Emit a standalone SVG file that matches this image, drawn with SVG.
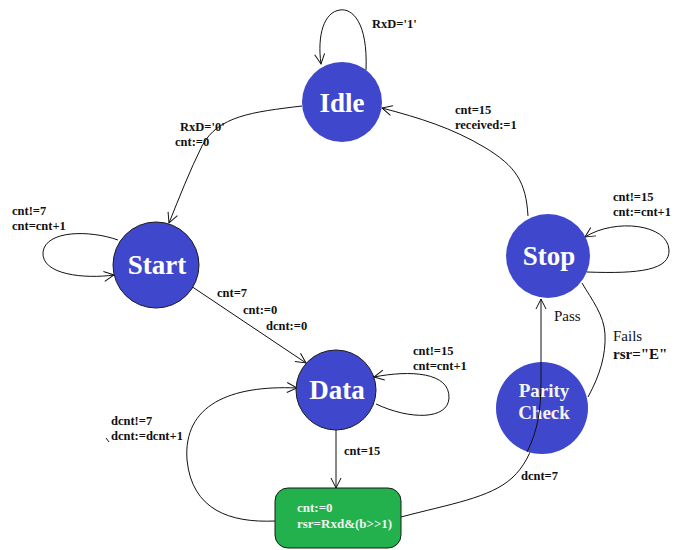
<svg xmlns="http://www.w3.org/2000/svg" width="678" height="550" viewBox="0 0 678 550">
  <style>
    .state { fill: #3f48cc; }
    .outlined { stroke: #1a1a1a; stroke-width: 1; }
    .name { fill: #ffffff; font-family: "Liberation Serif", "Times New Roman", serif; font-weight: bold; font-size: 27px; text-anchor: middle; }
    .name-sm { fill: #f4f4f4; font-family: "Liberation Serif", "Times New Roman", serif; font-weight: bold; font-size: 19px; text-anchor: middle; }
    .lbl { fill: #111111; font-family: "Liberation Serif", "Times New Roman", serif; font-weight: bold; font-size: 12.5px; }
    .lbl-reg { fill: #111111; font-family: "Liberation Serif", "Times New Roman", serif; font-size: 15px; }
    .lbl-big { fill: #111111; font-family: "Liberation Serif", "Times New Roman", serif; font-weight: bold; font-size: 15px; }
    .box-text { fill: #f2f2f2; font-family: "Liberation Serif", "Times New Roman", serif; font-weight: bold; font-size: 13px; }
    .edge { fill: none; stroke: #111111; stroke-width: 1; }
  </style>
  <defs>
    <marker id="arrow" viewBox="0 0 12 12" refX="11" refY="6" markerWidth="12" markerHeight="12" markerUnits="userSpaceOnUse" orient="auto">
      <path d="M1,1 L11,6 L1,11" fill="none" stroke="#111111" stroke-width="1"/>
    </marker>
  </defs>

  <rect width="678" height="550" fill="#ffffff"/>

  <!-- transitions -->
  <g id="connectors">
    <!-- Idle self loop -->
    <path class="edge" d="M366,70 C368,22 352,8 340,10 C324,12 317,35 321,64" marker-end="url(#arrow)"/>
    <!-- Idle -> Start -->
    <path class="edge" d="M302,106 C252,112 218,116 202,146 C190,170 179,198 169,223" marker-end="url(#arrow)"/>
    <!-- Stop -> Idle -->
    <path class="edge" d="M528,216 C526,182 516,166 484,147 C452,128 420,118 382,108" marker-end="url(#arrow)"/>
    <!-- Stop self loop -->
    <path class="edge" d="M587,272 C640,274 670,270 669,250 C668,224 615,218 585,237" marker-end="url(#arrow)"/>
    <!-- Start self loop -->
    <path class="edge" d="M118,240 C90,230 46,230 43,252 C41,275 85,279 114,275" marker-end="url(#arrow)"/>
    <!-- Start -> Data -->
    <path class="edge" d="M191,286 L306,363" marker-end="url(#arrow)"/>
    <!-- Data self loop -->
    <path class="edge" d="M376,404 C410,420 448,420 449,398 C450,372 410,370 374,377" marker-end="url(#arrow)"/>
    <!-- shift register box -> Data -->
    <path class="edge" d="M275,521 C230,523 192,510 187,460 C183,405 230,385 297,388" marker-end="url(#arrow)"/>
    <!-- Data -> shift register box -->
    <path class="edge" d="M336,430 L336,488" marker-end="url(#arrow)"/>
    <!-- shift register box -> Stop (through Parity Check) -->
    <path class="edge" d="M401,517 C450,504 490,498 512,478 C536,456 541,420 541,380 L541,299" marker-end="url(#arrow)"/>
    <!-- Parity Check -> Stop on failure -->
    <path class="edge" d="M588,397 C600,375 606,355 605,334 C604,315 592,300 582,283"/>
    <!-- stray pen tick -->
    <path class="edge" d="M106,438 L109,442"/>
  </g>

  <g id="idle">
    <circle class="state" cx="342" cy="102" r="40"/>
    <text class="name" x="342" y="112">Idle</text>
  </g>

  <g id="start">
    <circle class="state outlined" cx="156" cy="265" r="43"/>
    <text class="name" x="157" y="274">Start</text>
  </g>

  <g id="data">
    <circle class="state outlined" cx="336" cy="390" r="40"/>
    <text class="name" x="337" y="399">Data</text>
  </g>

  <g id="stop">
    <circle class="state" cx="548" cy="256" r="42"/>
    <text class="name" x="549" y="265">Stop</text>
  </g>

  <g id="parity-check">
    <circle class="state" cx="542" cy="408" r="46"/>
    <text class="name-sm" x="544" y="397">Parity</text>
    <text class="name-sm" x="544" y="419">Check</text>
  </g>

  <g id="shift-register">
    <rect x="275" y="488" width="126" height="60" rx="13" ry="13" fill="#22b14c" stroke="#1a1a1a" stroke-width="1"/>
    <text class="box-text" x="297" y="512">cnt:=0</text>
    <text class="box-text" x="297" y="528">rsr=Rxd&amp;(b&gt;&gt;1)</text>
  </g>

  <!-- the Pass line stays visible across the Parity Check disc -->
  <g id="pass-overlay">
    <path class="edge" d="M527,452 C538,430 541,410 541,380 L541,362"/>
  </g>

  <g id="labels">
    <text class="lbl" x="372" y="28">RxD='1'</text>
    <text class="lbl" x="180" y="131">RxD='0'</text>
    <text class="lbl" x="175" y="146">cnt:=0</text>
    <text class="lbl" x="12" y="215">cnt!=7</text>
    <text class="lbl" x="12" y="230">cnt=cnt+1</text>
    <text class="lbl" x="217" y="297">cnt=7</text>
    <text class="lbl" x="243" y="314">cnt:=0</text>
    <text class="lbl" x="266" y="330">dcnt:=0</text>
    <text class="lbl" x="413" y="355">cnt!=15</text>
    <text class="lbl" x="413" y="370">cnt=cnt+1</text>
    <text class="lbl" x="455" y="114">cnt=15</text>
    <text class="lbl" x="455" y="129">received:=1</text>
    <text class="lbl" x="613" y="201">cnt!=15</text>
    <text class="lbl" x="613" y="216">cnt:=cnt+1</text>
    <text class="lbl-reg" x="554" y="321">Pass</text>
    <text class="lbl-reg" x="613" y="341">Fails</text>
    <text class="lbl-big" x="613" y="359">rsr="E"</text>
    <text class="lbl" x="111" y="425">dcnt!=7</text>
    <text class="lbl" x="111" y="440">dcnt:=dcnt+1</text>
    <text class="lbl" x="344" y="455">cnt=15</text>
    <text class="lbl" x="521" y="480">dcnt=7</text>
  </g>
</svg>
